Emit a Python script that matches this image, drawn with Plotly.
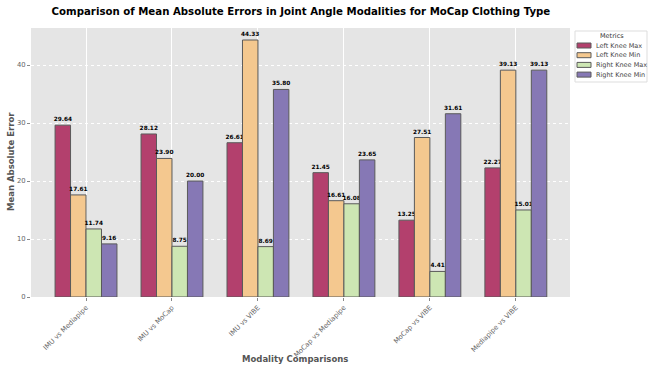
import plotly.graph_objects as go

categories = ['IMU vs Mediapipe', 'IMU vs MoCap', 'IMU vs VIBE',
              'MoCap vs Mediapipe', 'MoCap vs VIBE', 'Mediapipe vs VIBE']
left_knee_max = [29.64, 28.12, 26.61, 21.45, 13.25, 22.27]
left_knee_min = [17.61, 23.90, 44.33, 16.61, 27.51, 39.13]
right_knee_max = [11.74, 8.75, 8.69, 16.08, 4.41, 15.01]
right_knee_min = [9.16, 20.00, 35.80, 23.65, 31.61, 39.13]

series = [
    ('Left Knee Max', left_knee_max, '#b3406d'),
    ('Left Knee Min', left_knee_min, '#f4c88f'),
    ('Right Knee Max', right_knee_max, '#cde6b3'),
    ('Right Knee Min', right_knee_min, '#8678b5'),
]

W, H = 650, 372
L, R, T, B = 31, 80, 28, 75


def px(x, y):
    # pixel position -> paper coordinates
    return (x - L) / (W - L - R), (H - B - y) / (H - T - B)


fig = go.Figure()
for name, vals, color in series:
    fig.add_trace(go.Bar(
        name=name,
        x=categories,
        y=vals,
        marker=dict(color=color, line=dict(color='#5a5a5a', width=1)),
        text=[f'{v:.2f}' for v in vals],
        textposition='outside',
        textfont=dict(size=5.8, color='black', family='DejaVu Sans', weight='bold'),
        cliponaxis=False,
    ))

# hand-drawn legend box (matplotlib style, compact)
shapes = []
annotations = []
x0, y0 = px(575, 31)
x1, y1 = px(647, 82)
shapes.append(dict(type='rect', xref='paper', yref='paper', x0=x0, y0=y0, x1=x1, y1=y1,
                   fillcolor='white', line=dict(color='#dddddd', width=1), layer='above'))
tx, ty = px(612, 36)
annotations.append(dict(text='Metrics', xref='paper', yref='paper', x=tx, y=ty,
                        xanchor='center', yanchor='middle', showarrow=False,
                        font=dict(size=6.5, color='#333333')))
for i, (name, vals, color) in enumerate(series):
    yc = 45.5 + i * 9.7
    sx0, sy0 = px(577, yc - 2.5)
    sx1, sy1 = px(591, yc + 2.5)
    shapes.append(dict(type='rect', xref='paper', yref='paper', x0=sx0, y0=sy0, x1=sx1, y1=sy1,
                       fillcolor=color, line=dict(color='#5a5a5a', width=1), layer='above'))
    lx, ly = px(594, yc)
    annotations.append(dict(text=name, xref='paper', yref='paper', x=lx, y=ly,
                            xanchor='left', yanchor='middle', showarrow=False,
                            font=dict(size=6.5, color='#444444')))

ax, ay = px(W / 2 - 30, 359)
annotations.append(dict(text='<b>Modality Comparisons</b>', xref='paper', yref='paper',
                        x=ax, y=ay, xanchor='center', yanchor='middle', showarrow=False,
                        font=dict(size=8.5, color='#555555')))
bx, by = px(11, 162)
annotations.append(dict(text='<b>Mean Absolute Error</b>', xref='paper', yref='paper',
                        x=bx, y=by, xanchor='center', yanchor='middle', showarrow=False,
                        textangle=-90, font=dict(size=8.5, color='#555555')))

fig.update_layout(
    width=W, height=H,
    margin=dict(l=L, r=R, t=T, b=B),
    paper_bgcolor='white',
    plot_bgcolor='#e5e5e5',
    font=dict(family='DejaVu Sans', color='#555555'),
    title=dict(
        text='<b>Comparison of Mean Absolute Errors in Joint Angle Modalities for MoCap Clothing Type</b>',
        x=0.463, xanchor='center', y=0.968, yanchor='middle',
        font=dict(size=10.2, color='black'),
    ),
    barmode='group',
    bargap=0.28,
    bargroupgap=0,
    uniformtext=dict(minsize=5, mode='show'),
    showlegend=False,
    shapes=shapes,
    annotations=annotations,
    xaxis=dict(
        tickangle=-45,
        tickfont=dict(size=6.8, color='#666666'),
        showgrid=True, gridcolor='white', gridwidth=1,
        ticks='outside', ticklen=3, tickcolor='#888888',
        range=[-0.64, 5.63],
        automargin=False,
    ),
    yaxis=dict(
        tickfont=dict(size=6.8, color='#666666'),
        range=[0, 46.4],
        tickvals=[0, 10, 20, 30, 40],
        showgrid=True, gridcolor='white', gridwidth=1, griddash='dot',
        ticks='outside', ticklen=3, tickcolor='#888888',
        zeroline=False,
        automargin=False,
    ),
)

fig.write_html('out.html', config={'displayModeBar': False},
               post_script="document.body.style.margin='0px';")
